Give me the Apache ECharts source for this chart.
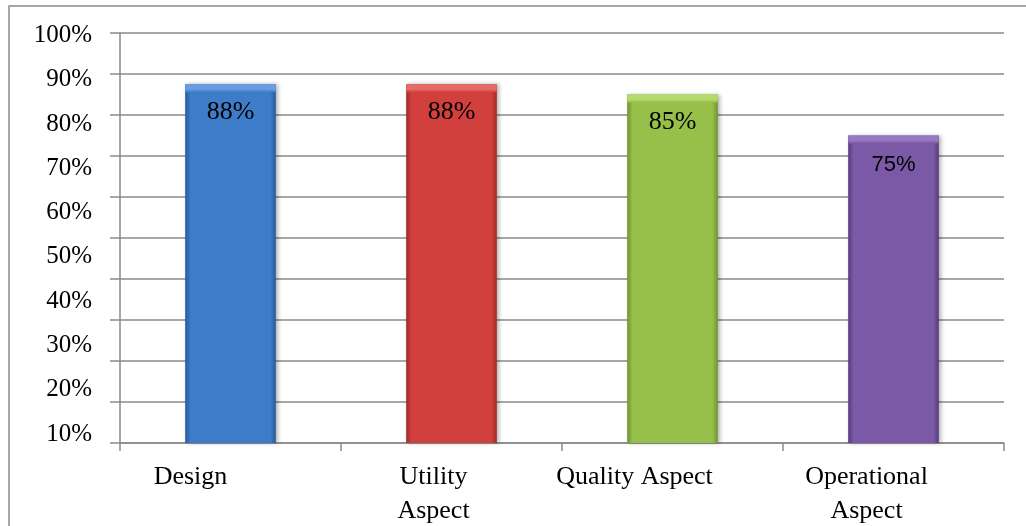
<!DOCTYPE html>
<html>
<head>
<meta charset="utf-8">
<script src="https://cdn.jsdelivr.net/npm/echarts@6/dist/echarts.min.js"></script>
<style>
html,body{margin:0;padding:0;background:#fff;}
#chart{width:1026px;height:526px;}
</style>
</head>
<body>
<div id="chart"></div>
<script>
// ---- data ----
const categories = ['Design', 'Utility\nAspect', 'Quality Aspect', 'Operational\nAspect'];
const values = [87.5, 87.5, 85, 75];
const yTickLabels = [10, 20, 30, 40, 50, 60, 70, 80, 90, 100];

// ---- styles ----
const baseColors = ['#3d7cc9', '#d1403c', '#97c04a', '#7b59a6'];
const edgeColors = ['#28589a', '#9c2a28', '#6f9330', '#56397e'];
const lightColors = ['#6a9de0', '#e56c68', '#b6da6c', '#9878c0'];
const labelShift = [80, 36, 76, 54];
const serif = '"Liberation Serif", "Times New Roman", serif';
const sans = '"Liberation Sans", Arial, sans-serif';

function barGradient(i) {
  return new echarts.graphic.LinearGradient(0, 0, 1, 0, [
    { offset: 0, color: edgeColors[i] },
    { offset: 0.06, color: baseColors[i] },
    { offset: 0.94, color: baseColors[i] },
    { offset: 1, color: edgeColors[i] }
  ]);
}
function bevelGradient(i) {
  return new echarts.graphic.LinearGradient(0, 0, 0, 1, [
    { offset: 0, color: lightColors[i] },
    { offset: 0.6, color: lightColors[i] },
    { offset: 1, color: baseColors[i] }
  ]);
}

const rich = {};
labelShift.forEach((s, i) => {
  rich['c' + i] = { fontFamily: serif, fontSize: 26, lineHeight: 34, color: '#000', padding: [0, s, 0, 0] };
});

const chart = echarts.init(document.getElementById('chart'));
chart.setOption({
  animation: false,
  backgroundColor: '#fff',
  graphic: [{
    type: 'rect',
    shape: { x: 9, y: 6, width: 1100, height: 600 },
    style: { fill: 'none', stroke: '#8a8a8a', lineWidth: 1.5 },
    silent: true,
    z: -10
  }],
  grid: [
    { left: 120, right: 22, top: 33, height: 410 },
    { left: 120, right: 22, top: 35.5, height: 398.5 }
  ],
  xAxis: [
    {
      type: 'category',
      gridIndex: 0,
      data: categories,
      axisLine: { show: true, lineStyle: { color: '#8a8a8a', width: 1.5 } },
      axisTick: { show: true, length: 8, lineStyle: { color: '#8a8a8a', width: 1.5 } },
      axisLabel: {
        margin: 17,
        interval: 0,
        formatter: (v, i) => '{c' + i + '|' + v + '}',
        rich: rich
      }
    },
    { type: 'category', gridIndex: 1, show: false, data: categories }
  ],
  yAxis: [
    {
      type: 'value',
      gridIndex: 0,
      min: 0,
      max: 100,
      interval: 10,
      axisLine: { show: true, lineStyle: { color: '#8a8a8a', width: 1.5 } },
      axisTick: { show: true, length: 10, lineStyle: { color: '#8a8a8a', width: 1.5 } },
      axisLabel: { show: false },
      splitLine: { show: true, lineStyle: { color: '#8a8a8a', width: 1.5 } }
    },
    {
      type: 'value',
      gridIndex: 1,
      min: yTickLabels[0],
      max: yTickLabels[yTickLabels.length - 1],
      interval: 10,
      axisLine: { show: false },
      axisTick: { show: false },
      splitLine: { show: false },
      axisLabel: {
        margin: 28,
        formatter: '{value}%',
        fontFamily: serif,
        fontSize: 25,
        color: '#000'
      }
    }
  ],
  series: [
    {
      type: 'bar',
      xAxisIndex: 0,
      yAxisIndex: 0,
      barWidth: '41%',
      z: 2,
      data: values.map((v, i) => ({
        value: v,
        itemStyle: {
          color: barGradient(i),
          shadowColor: 'rgba(0,0,0,0.3)',
          shadowBlur: 4,
          shadowOffsetX: 2,
          shadowOffsetY: 0
        }
      }))
    },
    {
      type: 'pictorialBar',
      xAxisIndex: 0,
      yAxisIndex: 0,
      barWidth: '41%',
      symbol: 'rect',
      symbolPosition: 'end',
      symbolSize: ['100%', 8],
      z: 3,
      data: values.map((v, i) => ({
        value: v,
        itemStyle: { color: bevelGradient(i) },
        label: i === 3
          ? { fontFamily: sans, fontSize: 22, offset: [0, 29] }
          : { fontFamily: serif, fontSize: 26, offset: [0, 28] }
      })),
      label: {
        show: true,
        position: 'top',
        distance: 0,
        verticalAlign: 'middle',
        color: '#000',
        formatter: p => Math.round(p.value) + '%'
      }
    }
  ]
});
</script>
</body>
</html>
